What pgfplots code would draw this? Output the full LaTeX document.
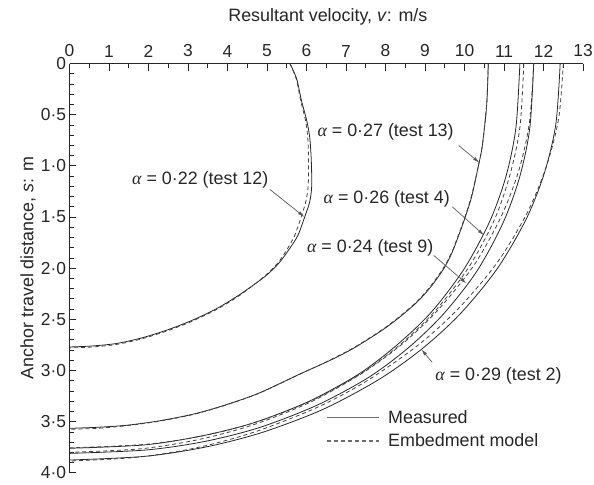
\documentclass[border=0pt]{standalone}
\usepackage{fontspec}
\setmainfont{Liberation Sans}
\newfontfamily\serif{Liberation Serif}
\usepackage{pgfplots}
\pgfplotsset{compat=1.18}
\usetikzlibrary{arrows.meta}
\newcommand{\al}{{\serif\itshape α}}
\definecolor{ink}{gray}{0.15}
\definecolor{dsh}{gray}{0.25}
\definecolor{arr}{gray}{0.35}
\begin{document}
\begin{tikzpicture}
\begin{axis}[name=ax,
  width=517pt, height=412pt, scale only axis,
  xmin=0, xmax=13, ymin=0, ymax=4, y dir=reverse,
  axis x line*=top, axis y line*=left,
  axis line style={ink, line width=0.9pt},
  tick style={ink, line width=0.8pt},
  tick align=inside,
  major tick length=7pt, minor tick length=4.5pt,
  xtick={0,...,13}, xticklabels={0,1,2,3,4,5,6,7,8,9,10,11,12,13},
  minor x tick num=1,
  xticklabel shift=3pt,
  ytick={0,0.5,1,1.5,2,2.5,3,3.5,4},
  yticklabels={0,0·5,1·0,1·5,2·0,2·5,3·0,3·5,4·0},
  minor y tick num=4,
  ticklabel style={font=\fontsize{17.5}{20}\selectfont, text=ink},
  legend style={at={(axis cs:6.50,3.575)}, anchor=west, draw=none, fill=none,
    inner sep=0pt, row sep=7pt, column sep=8pt, font=\fontsize{18}{21}\selectfont, text=ink,
    nodes={inner sep=1pt}},
  legend cell align=left,
  legend image code/.code={\draw[#1] (0pt,0pt) -- (52pt,0pt);},
  clip=false,
]
% legend
\addlegendimage{color=gray!85!black, line width=1.1pt}
\addlegendimage{color=gray!85!black, line width=1.1pt, dash pattern=on 4pt off 3pt}
\legend{Measured, Embedment model}

% test 12 measured
\addplot[ink, line width=0.8pt, smooth, tension=0.5] coordinates {
(5.58,0) (5.75,0.15) (5.87,0.36) (6.0,0.55) (6.08,0.72) (6.12,0.95) (6.13,1.2) (6.08,1.35) (5.97,1.48) (5.78,1.68) (5.55,1.82) (5.3,1.95) (4.95,2.08) (4.3,2.26) (3.7,2.4) (3.1,2.51) (2.5,2.6) (1.84,2.68) (1.2,2.735) (0.58,2.76) (0,2.77)};
% test 12 model
\addplot[dsh, line width=0.8pt, smooth, tension=0.5, dash pattern=on 4pt off 3pt] coordinates {
(5.58,0) (5.74,0.15) (5.85,0.36) (5.97,0.55) (6.03,0.72) (6.05,0.95) (6.04,1.2) (5.98,1.35) (5.88,1.48) (5.7,1.68) (5.5,1.82) (5.27,1.95) (4.93,2.08) (4.29,2.27) (3.69,2.41) (3.09,2.52) (2.49,2.61) (1.83,2.69) (1.19,2.745) (0.57,2.77) (0,2.78)};

% test 13 measured
\addplot[ink, line width=0.8pt, smooth, tension=0.5] coordinates {
(10.6,0) (10.56,0.4) (10.45,0.8) (10.35,1.0) (10.18,1.3) (10.0,1.52) (9.85,1.68) (9.68,1.85) (9.48,2.0) (9.15,2.18) (8.8,2.33) (8.35,2.48) (7.9,2.61) (7.2,2.78) (6.6,2.9) (5.8,3.04) (4.8,3.22) (4.0,3.33) (3.2,3.42) (2.3,3.49) (1.45,3.535) (0.7,3.555) (0,3.565)};
% test 13 model
\addplot[dsh, line width=0.8pt, smooth, tension=0.5, dash pattern=on 4pt off 3pt] coordinates {
(10.6,0) (10.56,0.4) (10.45,0.8) (10.35,1.0) (10.17,1.3) (9.99,1.52) (9.84,1.68) (9.67,1.85) (9.46,2.0) (9.13,2.18) (8.78,2.33) (8.33,2.48) (7.88,2.61) (7.18,2.78) (6.58,2.9) (5.78,3.045) (4.78,3.225) (3.98,3.335) (3.18,3.425) (2.28,3.495) (1.43,3.54) (0.69,3.565) (0,3.575)};

% test 4 measured
\addplot[ink, line width=0.8pt, smooth, tension=0.5] coordinates {
(11.4,0) (11.30,0.626) (11.05,1.10) (10.64,1.54) (10.0,2.0) (9.18,2.42) (8.32,2.74) (7.34,3.03) (6.07,3.30) (4.67,3.51) (3.34,3.64) (1.90,3.727) (0,3.76)};
% test 4 model
\addplot[dsh, line width=0.8pt, smooth, tension=0.5, dash pattern=on 4pt off 3pt] coordinates {
(11.5,0) (11.40,0.625) (11.14,1.10) (10.74,1.54) (10.09,2.0) (9.26,2.416) (8.39,2.74) (7.40,3.024) (6.12,3.295) (4.71,3.506) (3.37,3.639) (1.91,3.722) (0,3.755)};

% test 9 measured
\addplot[ink, line width=0.8pt, smooth, tension=0.5] coordinates {
(11.75,0) (11.65,0.634) (11.39,1.115) (10.97,1.56) (10.31,2.03) (9.46,2.45) (8.57,2.78) (7.56,3.07) (6.26,3.34) (4.81,3.557) (3.44,3.692) (1.96,3.776) (0,3.81)};
% test 9 model
\addplot[dsh, line width=0.8pt, smooth, tension=0.5, dash pattern=on 4pt off 3pt] coordinates {
(11.75,0) (11.64,0.581) (11.37,1.049) (10.93,1.492) (10.25,1.964) (9.36,2.394) (8.45,2.732) (7.40,3.028) (6.07,3.314) (4.61,3.536) (3.24,3.677) (1.80,3.765) (0,3.80)};

% test 2 measured
\addplot[ink, line width=0.8pt, smooth, tension=0.5] coordinates {
(12.42,0) (12.31,0.592) (12.02,1.07) (11.56,1.52) (10.83,2.003) (9.90,2.442) (8.93,2.786) (7.83,3.088) (6.42,3.379) (4.87,3.606) (3.43,3.749) (1.90,3.839) (0,3.875)};
% test 2 model
\addplot[dsh, line width=0.8pt, smooth, tension=0.5, dash pattern=on 4pt off 3pt] coordinates {
(12.5,0) (12.38,0.54) (12.07,1.006) (11.59,1.455) (10.83,1.943) (9.85,2.392) (8.84,2.747) (7.52,3.103) (6.25,3.364) (4.68,3.601) (3.24,3.753) (1.74,3.847) (0,3.885)};

% annotations
\begin{scope}[every node/.style={font=\fontsize{18}{21}\selectfont, text=ink, inner sep=0pt}]
\node at (axis cs:8.0,0.665) {\al\ = 0·27 (test 13)};
\node at (axis cs:3.31,1.133) {\al\ = 0·22 (test 12)};
\node at (axis cs:8.03,1.32) {\al\ = 0·26 (test 4)};
\node at (axis cs:7.61,1.80) {\al\ = 0·24 (test 9)};
\node at (axis cs:10.86,3.05) {\al\ = 0·29 (test 2)};
\end{scope}
\begin{scope}[arr, line width=0.7pt, -{Latex[length=7pt,width=3.5pt]}]
\draw (axis cs:9.85,0.80) -- (axis cs:10.38,0.97);
\draw (axis cs:5.07,1.23) -- (axis cs:5.95,1.50);
\draw (axis cs:9.69,1.40) -- (axis cs:10.50,1.68);
\draw (axis cs:9.22,1.875) -- (axis cs:10.05,2.15);
\draw (axis cs:9.18,2.92) -- (axis cs:8.90,2.79);
\end{scope}

% axis labels
\node[font=\fontsize{18}{21}\selectfont, text=ink] at (axis description cs:0.503,1.114) {Resultant velocity, \textit{v}: m/s};
\node[font=\fontsize{18}{21}\selectfont, text=ink, rotate=90] at (axis description cs:-0.081,0.5) {Anchor travel distance, \textit{s}: m};
\end{axis}
\path (ax.south west) +(-70pt,-12pt) coordinate (bbA);
\path (ax.north east) +(11pt,64pt) coordinate (bbB);
\pgfresetboundingbox
\useasboundingbox (bbA) rectangle (bbB);
\end{tikzpicture}
\end{document}
